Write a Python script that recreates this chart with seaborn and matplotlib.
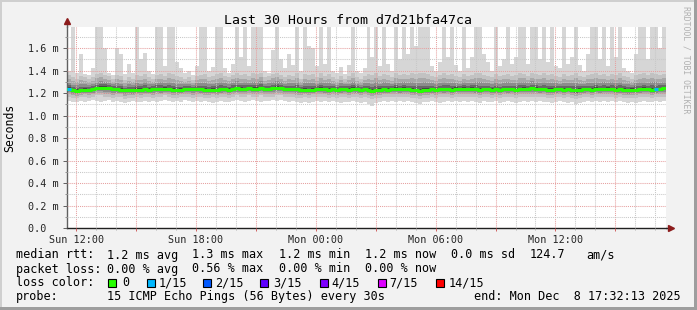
import numpy as np
import pandas as pd
import matplotlib
matplotlib.use("Agg")
import matplotlib.pyplot as plt
import matplotlib.dates as mdates
from matplotlib.ticker import FuncFormatter, MultipleLocator
from matplotlib.patches import Rectangle
import seaborn as sns

# ---------------- data ----------------
title = "Last 30 Hours from d7d21bfa47ca"
t_start = "2025-12-07 11:32:13"
t_end = "2025-12-08 17:32:13"

rtt_median = [
    1.240, 1.225, 1.222, 1.228, 1.232, 1.230, 1.235, 1.245, 1.248, 1.250,
    1.245, 1.238, 1.235, 1.232, 1.225, 1.228, 1.226, 1.232, 1.230, 1.235,
    1.232, 1.236, 1.238, 1.235, 1.240, 1.236, 1.230, 1.228, 1.232, 1.238,
    1.236, 1.234, 1.238, 1.235, 1.230, 1.228, 1.232, 1.226, 1.235, 1.238,
    1.232, 1.238, 1.242, 1.240, 1.236, 1.244, 1.240, 1.238, 1.246, 1.236,
    1.238, 1.242, 1.248, 1.245, 1.240, 1.236, 1.238, 1.234, 1.230, 1.232,
    1.228, 1.232, 1.236, 1.238, 1.235, 1.232, 1.236, 1.230, 1.234, 1.236,
    1.232, 1.238, 1.234, 1.230, 1.236, 1.228, 1.222, 1.226, 1.230, 1.234,
    1.232, 1.236, 1.240, 1.234, 1.238, 1.236, 1.230, 1.226, 1.222, 1.228,
    1.232, 1.234, 1.230, 1.236, 1.234, 1.238, 1.232, 1.240, 1.236, 1.238,
    1.236, 1.240, 1.234, 1.230, 1.236, 1.238, 1.232, 1.234, 1.228, 1.236,
    1.234, 1.238, 1.232, 1.236, 1.240, 1.236, 1.242, 1.238, 1.234, 1.236,
    1.232, 1.228, 1.234, 1.238, 1.232, 1.236, 1.228, 1.224, 1.230, 1.234,
    1.236, 1.232, 1.238, 1.234, 1.236, 1.240, 1.236, 1.232, 1.234, 1.230,
    1.226, 1.232, 1.228, 1.234, 1.238, 1.236, 1.232, 1.234, 1.238, 1.242,
]
rtt_max = [
    1.40, 1.80, 1.38, 1.55, 1.37, 1.36, 1.42, 1.80, 1.80, 1.60,
    1.38, 1.36, 1.60, 1.55, 1.37, 1.46, 1.38, 1.80, 1.50, 1.56,
    1.40, 1.37, 1.80, 1.80, 1.44, 1.80, 1.80, 1.48, 1.42, 1.38,
    1.40, 1.36, 1.44, 1.80, 1.80, 1.40, 1.43, 1.80, 1.80, 1.42,
    1.38, 1.46, 1.80, 1.52, 1.80, 1.44, 1.80, 1.80, 1.80, 1.40,
    1.38, 1.58, 1.80, 1.50, 1.42, 1.55, 1.45, 1.80, 1.40, 1.80,
    1.62, 1.60, 1.44, 1.80, 1.46, 1.80, 1.40, 1.38, 1.43, 1.37,
    1.45, 1.80, 1.40, 1.38, 1.42, 1.80, 1.52, 1.80, 1.44, 1.80,
    1.46, 1.40, 1.80, 1.50, 1.80, 1.55, 1.80, 1.62, 1.80, 1.80,
    1.80, 1.44, 1.40, 1.48, 1.80, 1.52, 1.80, 1.45, 1.40, 1.80,
    1.42, 1.52, 1.80, 1.80, 1.55, 1.48, 1.40, 1.80, 1.44, 1.50,
    1.80, 1.46, 1.52, 1.80, 1.80, 1.46, 1.80, 1.80, 1.50, 1.80,
    1.48, 1.80, 1.44, 1.42, 1.80, 1.46, 1.52, 1.80, 1.45, 1.40,
    1.55, 1.80, 1.80, 1.50, 1.80, 1.44, 1.80, 1.52, 1.80, 1.42,
    1.40, 1.38, 1.55, 1.80, 1.80, 1.50, 1.80, 1.80, 1.60, 1.80,
]
rtt_hi = [
    1.36, 1.34, 1.33, 1.35, 1.34, 1.33, 1.34, 1.37, 1.38, 1.36,
    1.35, 1.33, 1.36, 1.35, 1.32, 1.34, 1.33, 1.36, 1.35, 1.37,
    1.34, 1.33, 1.36, 1.37, 1.35, 1.38, 1.37, 1.35, 1.34, 1.33,
    1.34, 1.32, 1.35, 1.36, 1.37, 1.34, 1.35, 1.37, 1.38, 1.35,
    1.34, 1.36, 1.38, 1.36, 1.37, 1.35, 1.38, 1.37, 1.38, 1.34,
    1.35, 1.37, 1.38, 1.36, 1.34, 1.36, 1.35, 1.38, 1.33, 1.37,
    1.36, 1.37, 1.34, 1.38, 1.35, 1.37, 1.34, 1.33, 1.35, 1.33,
    1.35, 1.38, 1.34, 1.33, 1.35, 1.37, 1.36, 1.38, 1.35, 1.37,
    1.36, 1.34, 1.38, 1.36, 1.37, 1.36, 1.38, 1.37, 1.38, 1.38,
    1.37, 1.35, 1.34, 1.36, 1.38, 1.36, 1.37, 1.35, 1.34, 1.37,
    1.35, 1.36, 1.38, 1.38, 1.36, 1.35, 1.34, 1.37, 1.35, 1.36,
    1.37, 1.35, 1.36, 1.38, 1.37, 1.35, 1.38, 1.37, 1.36, 1.38,
    1.36, 1.37, 1.35, 1.34, 1.37, 1.35, 1.36, 1.38, 1.35, 1.34,
    1.36, 1.37, 1.38, 1.36, 1.37, 1.35, 1.37, 1.36, 1.38, 1.35,
    1.34, 1.33, 1.36, 1.37, 1.38, 1.36, 1.38, 1.37, 1.36, 1.37,
]
rtt_lo = [
    1.17, 1.16, 1.16, 1.17, 1.17, 1.16, 1.17, 1.18, 1.18, 1.17,
    1.17, 1.16, 1.17, 1.17, 1.15, 1.16, 1.16, 1.17, 1.16, 1.17,
    1.17, 1.16, 1.17, 1.17, 1.18, 1.17, 1.16, 1.16, 1.17, 1.17,
    1.17, 1.16, 1.17, 1.17, 1.16, 1.16, 1.17, 1.16, 1.17, 1.17,
    1.16, 1.17, 1.18, 1.17, 1.17, 1.18, 1.17, 1.17, 1.18, 1.17,
    1.17, 1.17, 1.18, 1.18, 1.17, 1.17, 1.17, 1.16, 1.16, 1.17,
    1.16, 1.17, 1.17, 1.17, 1.17, 1.16, 1.17, 1.16, 1.17, 1.17,
    1.16, 1.17, 1.17, 1.16, 1.17, 1.16, 1.15, 1.16, 1.16, 1.17,
    1.17, 1.17, 1.17, 1.17, 1.17, 1.17, 1.16, 1.16, 1.15, 1.16,
    1.16, 1.17, 1.16, 1.17, 1.17, 1.17, 1.16, 1.17, 1.17, 1.17,
    1.17, 1.17, 1.17, 1.16, 1.17, 1.17, 1.16, 1.17, 1.16, 1.17,
    1.17, 1.17, 1.16, 1.17, 1.17, 1.17, 1.17, 1.17, 1.17, 1.17,
    1.16, 1.16, 1.17, 1.17, 1.16, 1.17, 1.16, 1.15, 1.16, 1.17,
    1.17, 1.16, 1.17, 1.17, 1.17, 1.17, 1.17, 1.16, 1.17, 1.16,
    1.16, 1.16, 1.16, 1.17, 1.17, 1.17, 1.16, 1.17, 1.17, 1.17,
]
rtt_min = [
    1.13, 1.12, 1.12, 1.13, 1.12, 1.13, 1.14, 1.13, 1.12, 1.13,
    1.14, 1.12, 1.13, 1.12, 1.11, 1.12, 1.13, 1.12, 1.12, 1.13,
    1.12, 1.13, 1.12, 1.13, 1.14, 1.13, 1.12, 1.13, 1.12, 1.14,
    1.13, 1.12, 1.13, 1.12, 1.13, 1.12, 1.11, 1.12, 1.13, 1.12,
    1.12, 1.13, 1.14, 1.13, 1.12, 1.13, 1.14, 1.13, 1.12, 1.13,
    1.13, 1.14, 1.13, 1.14, 1.13, 1.12, 1.13, 1.12, 1.11, 1.12,
    1.11, 1.12, 1.13, 1.12, 1.13, 1.12, 1.13, 1.12, 1.11, 1.12,
    1.12, 1.13, 1.12, 1.11, 1.12, 1.10, 1.09, 1.11, 1.12, 1.13,
    1.12, 1.13, 1.12, 1.13, 1.12, 1.13, 1.12, 1.11, 1.10, 1.12,
    1.12, 1.13, 1.12, 1.11, 1.12, 1.13, 1.12, 1.13, 1.12, 1.13,
    1.12, 1.13, 1.12, 1.11, 1.13, 1.12, 1.12, 1.13, 1.11, 1.12,
    1.13, 1.12, 1.11, 1.12, 1.13, 1.12, 1.13, 1.12, 1.13, 1.12,
    1.12, 1.11, 1.12, 1.13, 1.12, 1.11, 1.12, 1.10, 1.11, 1.12,
    1.13, 1.12, 1.13, 1.12, 1.13, 1.12, 1.13, 1.12, 1.13, 1.12,
    1.11, 1.12, 1.11, 1.12, 1.13, 1.12, 1.12, 1.13, 1.12, 1.13,
]
# columns where some pings were lost (index, lost pings out of 15)
loss_cols = [0, 147]
loss_counts = [1, 1]

loss_labels = ["0", "1/15", "2/15", "3/15", "4/15", "7/15", "14/15"]
loss_colors = ["#26ff00", "#00b8ff", "#0059ff", "#5e00ff", "#7e00ff", "#dd00ff", "#ff0000"]
loss_levels = [0, 1, 2, 3, 4, 7, 14]

y_ticks = [0.0, 0.2, 0.4, 0.6, 0.8, 1.0, 1.2, 1.4, 1.6]

rtt_items = ["median rtt:", "1.2 ms avg", "1.3 ms max", "1.2 ms min", "1.2 ms now",
             "0.0 ms sd", "124.7", "am/s"]
loss_items = ["packet loss:", "0.00 % avg", "0.56 % max", "0.00 % min", "0.00 % now"]
probe_items = ["probe:", "15 ICMP Echo Pings (56 Bytes) every 30s"]
line_color = "loss color:"
line_end = "end: Mon Dec  8 17:32:13 2025"

# ---------------- styling ----------------
W, H = 697, 310
sns.set_theme(style="white")
plt.rcParams["font.family"] = ["DejaVu Sans Mono", "DejaVu Sans"]
plt.rcParams["text.color"] = "black"

BG = "#f2f2f2"
fig = plt.figure(figsize=(W / 100, H / 100), dpi=100, facecolor=BG)


def fx(x):
    return x / W


def fy(y):
    return 1 - y / H


ax = fig.add_axes([fx(67), fy(228), (666 - 67) / W, (228 - 27) / H])
ax.set_facecolor("white")

n = len(rtt_median)
edges = pd.date_range(pd.Timestamp(t_start), pd.Timestamp(t_end), periods=n + 1)


def ext(a):
    a = np.asarray(a, dtype=float)
    return np.append(a, a[-1])


med = ext(rtt_median)
lo = ext(rtt_lo)
hi = ext(rtt_hi)
mn = ext(rtt_min)
mx = ext(rtt_max)

# smoke layers (outer to inner)
ax.fill_between(edges, mn, mx, step="post", color="#d6d6d6", lw=0, zorder=1)
ax.fill_between(edges, lo, hi, step="post", color="#c2c2c2", lw=0, zorder=1.1)
for k, (f, c) in enumerate([(0.7, "#a8a8a8"), (0.45, "#8c8c8c"), (0.25, "#686868"), (0.1, "#454545")]):
    ax.fill_between(edges, med - f * (med - lo), med + f * (hi - med), step="post",
                    color=c, lw=0, zorder=1.2 + k * 0.1)

# median line (seaborn)
df = pd.DataFrame({"time": edges, "rtt": med})
sns.lineplot(data=df, x="time", y="rtt", drawstyle="steps-post", color=loss_colors[0],
             linewidth=2.2, ax=ax)
ax.lines[-1].set_zorder(4)
for i, cnt in zip(loss_cols, loss_counts):
    idx = max(j for j, lv in enumerate(loss_levels) if lv <= cnt)
    ax.hlines(rtt_median[i], edges[i], edges[i + 1], color=loss_colors[idx], lw=2.2, zorder=4.1)

ax.set_xlim(edges[0], edges[-1])
ax.set_ylim(0, 1.789)
ax.set_xlabel("")
ax.set_ylabel("")

# axes ticks / grid
ax.yaxis.set_major_locator(plt.FixedLocator(y_ticks))
ax.yaxis.set_minor_locator(MultipleLocator(0.1))
ax.yaxis.set_major_formatter(FuncFormatter(lambda v, p: "0.0  " if abs(v) < 1e-9 else f"{v:.1f} m"))
ax.xaxis.set_major_locator(mdates.HourLocator(byhour=range(0, 24, 3)))
ax.xaxis.set_minor_locator(mdates.HourLocator())


def xfmt(v, p):
    d = mdates.num2date(v)
    return d.strftime("%a %H:%M") if d.hour % 6 == 0 else ""


ax.xaxis.set_major_formatter(FuncFormatter(xfmt))

ax.set_axisbelow(False)
ax.grid(True, which="major", color="#e6a0a0", linestyle=(0, (1, 1)), linewidth=0.75, zorder=2.5)
ax.grid(True, which="minor", color="#c8c8c8", linestyle=(0, (1, 1)), linewidth=0.75, zorder=2.5)

ax.tick_params(axis="y", which="major", length=3, width=0.7, color="#606060",
               labelsize=7.3, pad=3, direction="out", left=True)
ax.tick_params(axis="y", which="minor", length=1.5, width=0.7, color="#909090", left=True)
ax.tick_params(axis="x", which="major", length=2, width=0.7, color="#d06060",
               labelsize=7.3, pad=3, direction="out", bottom=True)
ax.tick_params(axis="x", which="minor", length=1.5, width=0.7, color="#b0b0b0", bottom=True)

for s in ["top", "right"]:
    ax.spines[s].set_visible(False)
ax.spines["left"].set_color("#606060")
ax.spines["left"].set_linewidth(1.0)
ax.spines["bottom"].set_color("#202020")
ax.spines["bottom"].set_linewidth(1.0)

# axis extensions with arrows
ax.plot([0, 0], [1, 1.02], transform=ax.transAxes, clip_on=False, color="#606060", lw=1.0)
ax.plot([0], [1.03], marker="^", ms=4.5, color="#8c1c1c", transform=ax.transAxes, clip_on=False)
ax.plot([1, 1.005], [0, 0], transform=ax.transAxes, clip_on=False, color="#202020", lw=1.0)
ax.plot([1.008], [0], marker=">", ms=4.5, color="#8c1c1c", transform=ax.transAxes, clip_on=False)

# ---------------- texts ----------------
fig.text(fx(348), fy(24), title, ha="center", va="baseline", fontsize=9.5)
fig.text(fx(10), fy(127.5), "Seconds", rotation=90, ha="center", va="center", fontsize=8.3)
fig.text(fx(686), fy(59.5), "RRDTOOL / TOBI OETIKER", rotation=270, ha="center", va="center",
         fontsize=5.9, color="#b0b0b0")

LFS = 8.45
item_x = [16, 107, 192, 279, 365, 451, 530, 586]
for txt, x in zip(rtt_items, item_x):
    fig.text(fx(x), fy(258.5), txt, ha="left", va="baseline", fontsize=LFS)
for txt, x in zip(loss_items, item_x):
    fig.text(fx(x), fy(272.5), txt, ha="left", va="baseline", fontsize=LFS)
fig.text(fx(16), fy(286.5), line_color, ha="left", va="baseline", fontsize=LFS)
for txt, x in zip(probe_items, item_x):
    fig.text(fx(x), fy(300), txt, ha="left", va="baseline", fontsize=LFS)
fig.text(fx(681), fy(300), line_end, ha="right", va="baseline", fontsize=LFS)

box_x = [108, 147, 203, 260, 320, 378, 436]
lab_x = [122, 159, 215, 273, 331, 389, 449]
for bx, lx, lab, col in zip(box_x, lab_x, loss_labels, loss_colors):
    fig.add_artist(Rectangle((fx(bx), fy(287)), 8 / W, 8 / H, transform=fig.transFigure,
                             facecolor=col, edgecolor="black", lw=0.8))
    fig.text(fx(lx), fy(286.5), lab, ha="left", va="baseline", fontsize=LFS)

# frame shading
fig.add_artist(Rectangle((0, 1 - 2 / H), 1, 2 / H, transform=fig.transFigure, color="#cfcfcf", lw=0))
fig.add_artist(Rectangle((0, 0), 2 / W, 1, transform=fig.transFigure, color="#cfcfcf", lw=0))
fig.add_artist(Rectangle((1 - 3 / W, 0), 3 / W, 1, transform=fig.transFigure, color="#9e9e9e", lw=0))
fig.add_artist(Rectangle((0, 0), 1, 3 / H, transform=fig.transFigure, color="#9e9e9e", lw=0))

fig.savefig("out.png", dpi=100, facecolor=BG)
